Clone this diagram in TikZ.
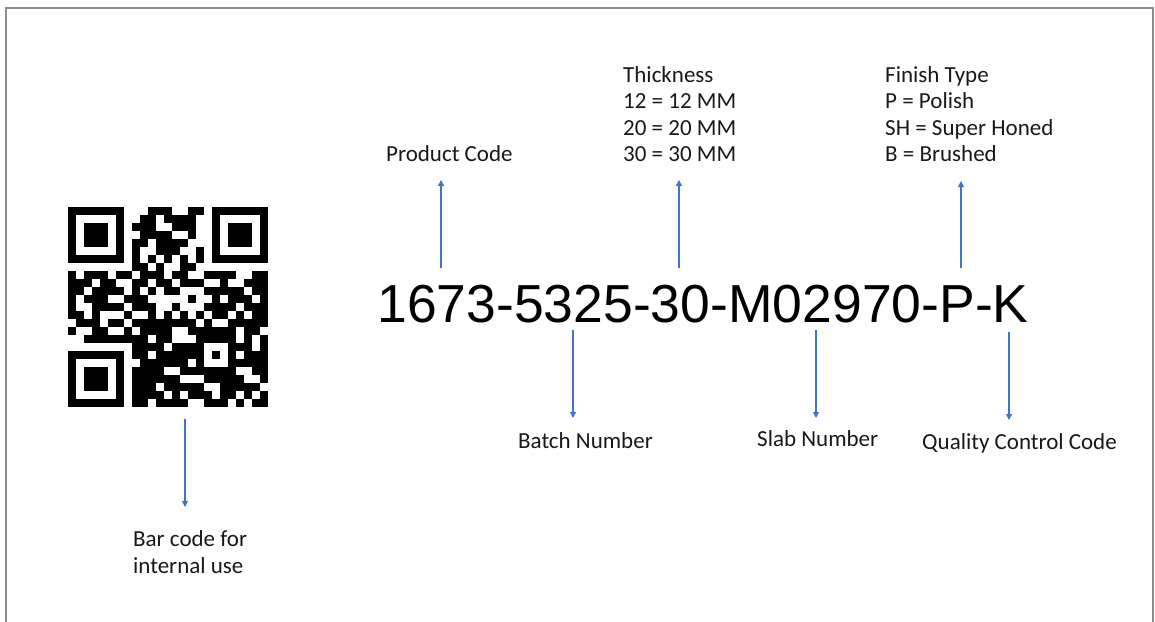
\documentclass[tikz,border=0pt]{standalone}
\usepackage{fontspec}
\setmainfont{Carlito}
\newfontfamily\codefont{Liberation Sans}
\usetikzlibrary{arrows.meta}
\definecolor{arrowblue}{HTML}{4472C4}
\definecolor{framegray}{HTML}{8C8C8C}
\makeatletter
\newcount\qrc
\def\qrrow#1#2{\qrc=0 \def\qrr{#1}\qr@parse#2\relax}
\def\qr@parse#1{\ifx#1\relax\else\if1#1\fill (68+8*\the\qrc,207+8*\qrr) rectangle ++(8.25,8.25);\fi\advance\qrc by 1 \expandafter\qr@parse\fi}
\makeatother
\tikzset{
  lbl/.style={anchor=base west, inner sep=0pt, font=\fontsize{23}{27}\selectfont, text=black!90},
  arr/.style={draw=arrowblue, line width=1.1pt, -{Triangle[width=6pt,length=6pt]}},
}
\begin{document}
\begin{tikzpicture}[x=1pt,y=-1pt]
\useasboundingbox (0,0) rectangle (1155,621);
\fill[white] (0,0) rectangle (1155,621);
% frame
\draw[framegray, line width=2pt] (6,623) -- (6,8) -- (1153,8) -- (1153,623);
% QR code
\begin{scope}[black]
\qrrow{0}{1111111 0 001110011 0 1111111}
\qrrow{1}{1000001 0 011011110 0 1000001}
\qrrow{2}{1011101 0 111001110 0 1011101}
\qrrow{3}{1011101 0 011110010 0 1011101}
\qrrow{4}{1011101 0 110111100 0 1011101}
\qrrow{5}{1000001 0 100111001 0 1000001}
\qrrow{6}{1111111 0 101010101 0 1111111}
\qrrow{7}{0000000 0 110100110 0 0000000}
\qrrow{8}{101110 1 1 01110110011110011}
\qrrow{9}{111011 0 0 11011011100100111}
\qrrow{10}{110111 1 0 10101100011111011}
\qrrow{11}{101110 0 1 11000001001011101}
\qrrow{12}{100111 1 0 11100100011110111}
\qrrow{13}{110100 0 1 00101010101101011}
\qrrow{14}{011101 1 0 11111111010011111}
\qrrow{15}{100110 0 1 01111001111110110}
\qrrow{16}{001111 1 1 11011000 11111 0101}
\qrrow{17}{0000000 0 1 1110111 10001 1101}
\qrrow{18}{1111111 0 11011111 10101 0111}
\qrrow{19}{1000001 0 01111110 10001 1111}
\qrrow{20}{1011101 0 11110011 11111 0011}
\qrrow{21}{1011101 0 11111100 011111001}
\qrrow{22}{1011101 0 11101111 100111110}
\qrrow{23}{1000001 0 11110101 110110101}
\qrrow{24}{1111111 0 11011110 011101011}
\end{scope}
% main code
\node[anchor=base, inner sep=0pt, font=\codefont\fontsize{53.5}{60}\selectfont] (code) at (703,322) {1673-5325-30-M02970-P-K};
% upper labels
\node[lbl] (pc) at (386,161) {Product Code};
\node[lbl] (th1) at (623,82) {Thickness};
\node[lbl] (th2) at (623,108.5) {12 = 12 MM};
\node[lbl] (th3) at (623,135) {20 = 20 MM};
\node[lbl] (th4) at (623,161.5) {30 = 30 MM};
\node[lbl] (fi1) at (885,82) {Finish Type};
\node[lbl] (fi2) at (885,108.5) {P = Polish};
\node[lbl] (fi3) at (885,135) {SH = Super Honed};
\node[lbl] (fi4) at (885,161.5) {B = Brushed};
% lower labels
\node[lbl] (batch) at (518,448) {Batch Number};
\node[lbl] (slab) at (757,446) {Slab Number};
\node[lbl] (qc) at (922,449) {Quality Control Code};
\node[lbl] (bar1) at (133,546) {Bar code for};
\node[lbl] (bar2) at (133,573) {internal use};
% connector ends
\coordinate (pc-from) at (441,268);   \coordinate (pc-to) at (441,180);
\coordinate (th-from) at (679,268);   \coordinate (th-to) at (679,180);
\coordinate (fi-from) at (961,268);   \coordinate (fi-to) at (961,181);
\coordinate (ba-from) at (573,330);   \coordinate (ba-to) at (573,418);
\coordinate (sl-from) at (816,330);   \coordinate (sl-to) at (816,418);
\coordinate (qc-from) at (1009,332);  \coordinate (qc-to) at (1009,420);
\coordinate (bar-from) at (185,419);  \coordinate (bar-to) at (185,507);
\draw[arr] (pc-from) -- (pc-to);
\draw[arr] (th-from) -- (th-to);
\draw[arr] (fi-from) -- (fi-to);
\draw[arr] (ba-from) -- (ba-to);
\draw[arr] (sl-from) -- (sl-to);
\draw[arr] (qc-from) -- (qc-to);
\draw[arr] (bar-from) -- (bar-to);
\end{tikzpicture}
\end{document}
